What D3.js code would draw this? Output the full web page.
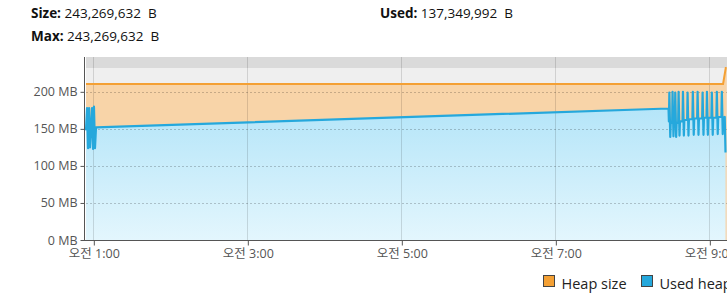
<!DOCTYPE html>
<html>
<head>
<meta charset="utf-8">
<script src="https://cdn.jsdelivr.net/npm/d3@7"></script>
<style>
body { margin: 0; overflow: hidden; background: #fff; }
text { font-family: "Open Sans", "Noto Sans CJK KR", sans-serif; }
</style>
</head>
<body>
<div id="chart"></div>
<script>
const width = 760;
const height = 304;
const marginTop = 57;
const plotBottom = 240;
const marginLeft = 86;
const plotRight = 735;

// header values
const sizeText = "243,269,632\u00a0 B";
const maxText = "243,269,632\u00a0 B";
const usedText = "137,349,992\u00a0 B";

// time in minutes after midnight, values in MB
const xDomain = [54.3, 560.0];
const yDomain = [0, 247];
const xTickValues = [60, 180, 300, 420, 540];
const xTickLabels = ["오전 1:00", "오전 3:00", "오전 5:00", "오전 7:00", "오전 9:00"];
const yTickValues = [0, 50, 100, 150, 200];

const maxTime = [54.3, 553.5];
const maxMB = [232, 232];

const heapTime = [54.3, 550.7, 552.8, 553.5];
const heapMB = [210.7, 210.7, 232, 232];

const usedTime = [
    54.3, 55.1, 55.9, 56.7, 57.4, 58.2, 59.0, 59.8, 60.5, 61.3, 62.1,
    508.2,
    508.5, 508.85, 509.55, 509.9,
    511.0, 511.35, 512.05, 512.4,
    513.1, 513.45, 514.15, 514.5,
    515.7, 516.05, 516.75, 517.1,
    519.1, 519.45, 520.15, 520.5,
    522.7, 523.05, 523.75, 524.1,
    526.8, 527.15, 527.85, 528.2,
    530.5, 530.85, 531.55, 531.9,
    534.4, 534.75, 535.45, 535.8,
    537.8, 538.15, 538.85, 539.2,
    541.6, 541.95, 542.65, 543.0,
    545.5, 545.85, 546.55, 546.9,
    549.4, 549.75, 550.45, 550.8,
    552.0, 552.6
];
const usedMB = [
    148, 178, 124, 178, 125, 150, 178, 123, 180, 124, 152,
    177.5,
    160, 199, 139, 158,
    158, 200, 140, 157,
    157, 199, 139, 158,
    158, 200, 141, 160,
    160, 200, 141, 162,
    162, 199, 141, 163,
    163, 200, 142, 164,
    164, 200, 142, 164,
    164, 199, 142, 165,
    165, 200, 142, 165,
    165, 199, 142, 165,
    165, 200, 143, 166,
    166, 200, 143, 165,
    166, 118
];

const legendNames = ["Heap size", "Used heap"];
const orange = "#f4a034";
const blue = "#25a8dc";

const svg = d3.select("#chart")
    .append("svg")
    .attr("width", width)
    .attr("height", height);

// header
const header = [
    {label: "Size:", value: sizeText, x: 31, y: 18},
    {label: "Max:", value: maxText, x: 31, y: 41},
    {label: "Used:", value: usedText, x: 380, y: 18}
];
const ht = svg.selectAll(".hdr")
    .data(header)
    .join("text")
    .attr("class", "hdr")
    .attr("x", d => d.x)
    .attr("y", d => d.y)
    .attr("font-size", 13.5)
    .attr("fill", "#111");
ht.append("tspan").attr("font-weight", "bold").text(d => d.label);
ht.append("tspan").text(d => " " + d.value);

const xScale = d3.scaleLinear()
    .domain(xDomain)
    .range([marginLeft, plotRight]);

const yScale = d3.scaleLinear()
    .domain(yDomain)
    .range([plotBottom, marginTop]);

const defs = svg.append("defs");
const grad = defs.append("linearGradient")
    .attr("id", "usedFill")
    .attr("x1", 0).attr("y1", 0).attr("x2", 0).attr("y2", 1);
grad.append("stop").attr("offset", "0%").attr("stop-color", "#afe3f8");
grad.append("stop").attr("offset", "100%").attr("stop-color", "#e3f6fd");

// plot background (above max)
svg.append("rect")
    .attr("x", marginLeft)
    .attr("y", marginTop)
    .attr("width", plotRight - marginLeft)
    .attr("height", plotBottom - marginTop)
    .attr("fill", "#dadada");

const area = d3.area()
    .x(d => xScale(d[0]))
    .y0(yScale(0))
    .y1(d => yScale(d[1]));

const line = d3.line()
    .x(d => xScale(d[0]))
    .y(d => yScale(d[1]));

const maxData = d3.zip(maxTime, maxMB);
const heapData = d3.zip(heapTime, heapMB);
const usedData = d3.zip(usedTime, usedMB);

svg.append("path").datum(maxData).attr("d", area).attr("fill", "#efefef");
svg.append("path").datum(heapData).attr("d", area).attr("fill", "#f8d4a8");
svg.append("path").datum(usedData).attr("d", area).attr("fill", "url(#usedFill)");

// grid
svg.append("g")
    .selectAll("line")
    .data(xTickValues)
    .join("line")
    .attr("x1", d => Math.round(xScale(d)) + 0.5)
    .attr("x2", d => Math.round(xScale(d)) + 0.5)
    .attr("y1", marginTop)
    .attr("y2", plotBottom)
    .attr("stroke", "#000")
    .attr("stroke-opacity", 0.13);

svg.append("g")
    .selectAll("line")
    .data(yTickValues.slice(1))
    .join("line")
    .attr("x1", marginLeft)
    .attr("x2", plotRight)
    .attr("y1", d => Math.round(yScale(d)) + 0.5)
    .attr("y2", d => Math.round(yScale(d)) + 0.5)
    .attr("stroke", "#000")
    .attr("stroke-opacity", 0.2)
    .attr("stroke-dasharray", "2,2");

svg.append("path").datum(heapData).attr("d", line)
    .attr("fill", "none").attr("stroke", orange).attr("stroke-width", 2);
svg.append("path").datum(usedData).attr("d", line)
    .attr("fill", "none").attr("stroke", blue).attr("stroke-width", 2.2)
    .attr("stroke-linejoin", "round");

// axes
const yAxis = d3.axisLeft(yScale)
    .tickValues(yTickValues)
    .tickSize(4)
    .tickPadding(3)
    .tickFormat(d => d + " MB");

const gy = svg.append("g")
    .attr("transform", `translate(${marginLeft - 1.5},0)`)
    .call(yAxis);

const xAxis = d3.axisBottom(xScale)
    .tickValues(xTickValues)
    .tickSize(5)
    .tickPadding(4)
    .tickFormat((d, i) => xTickLabels[i]);

const gx = svg.append("g")
    .attr("transform", `translate(0.5,${plotBottom + 0.5})`)
    .call(xAxis);

for (const g of [gx, gy]) {
    g.select(".domain").remove();
    g.selectAll(".tick line").attr("stroke", "#555");
    g.selectAll(".tick text")
        .attr("fill", "#555")
        .attr("font-size", 12.5)
        .attr("font-family", null);
}

svg.append("line")
    .attr("x1", marginLeft - 1.5).attr("x2", marginLeft - 1.5)
    .attr("y1", marginTop).attr("y2", plotBottom + 1)
    .attr("stroke", "#555");
svg.append("line")
    .attr("x1", marginLeft - 2).attr("x2", plotRight)
    .attr("y1", plotBottom + 0.5).attr("y2", plotBottom + 0.5)
    .attr("stroke", "#555");

// legend
const legendX = [543.5, 641.5];
const legendColors = [orange, blue];
const lg = svg.selectAll(".leg")
    .data(legendNames)
    .join("g")
    .attr("class", "leg")
    .attr("transform", (d, i) => `translate(${legendX[i]},275.5)`);
lg.append("rect")
    .attr("width", 11)
    .attr("height", 11)
    .attr("fill", (d, i) => legendColors[i])
    .attr("stroke", "#444");
lg.append("text")
    .attr("x", 18)
    .attr("y", 13.5)
    .attr("font-size", 14.5)
    .attr("fill", "#222")
    .text(d => d);
</script>
</body>
</html>
